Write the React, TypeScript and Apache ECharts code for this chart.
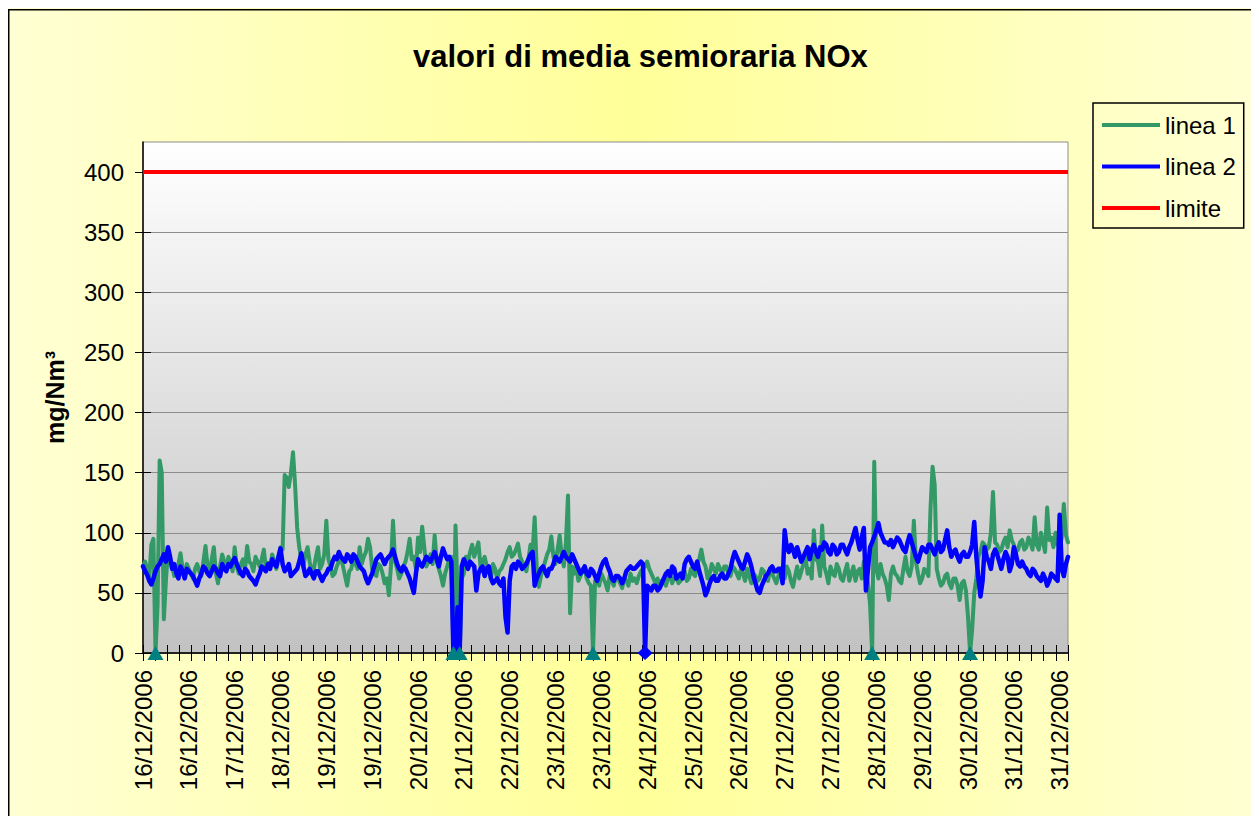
import React, { useEffect, useRef } from 'react';
import * as echarts from 'echarts';

const TITLE = 'valori di media semioraria NOx';
const Y_NAME = 'mg/Nm³';
const FONT = '"Liberation Sans", Arial, sans-serif';

const X_LABELS = [
  '16/12/2006', '16/12/2006', '17/12/2006', '18/12/2006', '19/12/2006', '19/12/2006',
  '20/12/2006', '21/12/2006', '22/12/2006', '23/12/2006', '23/12/2006', '24/12/2006',
  '25/12/2006', '26/12/2006', '27/12/2006', '27/12/2006', '28/12/2006', '29/12/2006',
  '30/12/2006', '31/12/2006', '31/12/2006',
];
const LABEL_EVERY = 22;
const TICK_SLOTS = 77;
const Y_TICKS = [0, 50, 100, 150, 200, 250, 300, 350, 400];
const Y_MAX = 425;
const LIMIT = 400;

const LINEA_1 = [
  72, 76, 70, 62, 90, 95, 0, 40, 160, 150, 28, 60, 85, 78, 72, 64, 68, 74, 83, 70,
  65, 74, 70, 66, 62, 70, 74, 68, 64, 76, 89, 72, 68, 78, 88, 66, 58, 72, 82, 76,
  70, 80, 75, 68, 88, 72, 66, 74, 78, 70, 89, 76, 74, 68, 80, 76, 72, 78, 86, 70,
  75, 70, 82, 76, 70, 78, 88, 86, 148, 146, 138, 150, 167, 140, 104, 88, 78, 72, 82, 88,
  76, 66, 70, 80, 88, 70, 74, 82, 110, 78, 72, 64, 66, 72, 76, 80, 72, 64, 56, 68,
  70, 80, 74, 70, 88, 74, 80, 84, 95, 88, 70, 66, 64, 74, 72, 66, 58, 62, 48, 72,
  110, 76, 70, 62, 66, 72, 76, 84, 95, 78, 80, 70, 96, 84, 105, 88, 72, 76, 82, 74,
  98, 76, 70, 64, 56, 66, 72, 78, 80, 0, 106, 50, 0, 62, 66, 80, 76, 84, 90, 80,
  86, 92, 72, 76, 80, 72, 68, 62, 74, 70, 62, 68, 70, 74, 78, 84, 88, 80, 82, 86,
  91, 80, 76, 72, 68, 78, 90, 84, 113, 70, 55, 64, 70, 76, 82, 86, 97, 80, 74, 86,
  98, 80, 72, 92, 131, 33, 72, 66, 72, 60, 64, 70, 70, 62, 58, 56, 0, 60, 62, 56,
  66, 62, 58, 52, 64, 60, 56, 64, 62, 58, 54, 62, 60, 56, 66, 60, 62, 58, 64, 68,
  70, 72, 76, 70, 66, 62, 58, 62, 56, 60, 60, 56, 62, 66, 58, 62, 64, 58, 60, 64,
  68, 60, 62, 70, 66, 64, 74, 78, 86, 76, 72, 62, 66, 74, 70, 66, 74, 70, 66, 72,
  72, 66, 64, 72, 70, 66, 62, 70, 66, 60, 70, 64, 58, 66, 64, 60, 62, 70, 68, 62,
  60, 70, 66, 62, 58, 64, 70, 66, 62, 72, 68, 60, 55, 64, 72, 62, 68, 74, 80, 66,
  70, 62, 102, 78, 76, 64, 106, 72, 66, 58, 72, 66, 64, 74, 70, 62, 60, 68, 74, 60,
  66, 72, 60, 68, 70, 62, 76, 70, 58, 40, 0, 159, 70, 62, 74, 66, 62, 56, 44, 66,
  72, 66, 64, 60, 58, 70, 80, 68, 64, 72, 110, 76, 66, 58, 62, 70, 68, 64, 120, 155,
  140, 70, 62, 56, 58, 64, 66, 58, 54, 62, 62, 56, 44, 58, 60, 52, 30, 0, 20, 50,
  62, 80, 84, 92, 90, 86, 88, 100, 134, 92, 90, 84, 86, 92, 96, 88, 102, 94, 90, 84,
  86, 92, 94, 86, 88, 96, 92, 86, 113, 90, 86, 100, 92, 84, 121, 94, 96, 88, 100, 90,
  88, 96, 124, 98, 92,
];

const LINEA_2 = [
  72, 68, 65, 60, 57, 62, 68, 72, 74, 78, 82, 76, 88, 80, 70, 74, 66, 62, 72, 68,
  62, 70, 68, 66, 64, 60, 56, 62, 66, 72, 70, 66, 64, 68, 72, 70, 66, 64, 74, 70,
  68, 74, 72, 76, 79, 74, 70, 66, 64, 70, 68, 64, 62, 60, 57, 62, 66, 72, 70, 68,
  74, 70, 78, 74, 72, 80, 87, 74, 68, 70, 74, 64, 66, 68, 70, 76, 83, 72, 64, 66,
  70, 66, 62, 68, 68, 64, 60, 64, 66, 70, 70, 76, 80, 78, 84, 80, 78, 76, 82, 80,
  76, 82, 80, 76, 72, 70, 68, 62, 58, 62, 66, 72, 78, 80, 82, 78, 74, 78, 80, 82,
  86, 80, 74, 70, 68, 72, 70, 66, 62, 56, 50, 66, 78, 74, 72, 76, 80, 78, 76, 80,
  84, 78, 72, 80, 87, 82, 78, 80, 76, 0, 0, 38, 0, 72, 78, 74, 70, 76, 74, 72,
  52, 66, 70, 72, 64, 70, 72, 62, 58, 60, 62, 58, 56, 62, 30, 17, 60, 72, 74, 70,
  76, 74, 70, 72, 74, 78, 82, 84, 56, 62, 66, 70, 72, 68, 64, 70, 70, 74, 80, 78,
  76, 80, 84, 80, 78, 76, 82, 78, 74, 70, 66, 68, 72, 66, 64, 70, 68, 64, 60, 66,
  72, 76, 78, 72, 68, 62, 60, 64, 64, 62, 58, 62, 68, 70, 72, 70, 70, 72, 74, 76,
  74, 0, 56, 54, 52, 56, 56, 52, 54, 58, 62, 66, 68, 64, 72, 70, 62, 64, 66, 62,
  74, 78, 80, 76, 72, 70, 76, 68, 62, 56, 48, 52, 58, 62, 64, 60, 60, 64, 66, 62,
  62, 66, 70, 78, 84, 80, 76, 72, 70, 76, 82, 78, 72, 64, 58, 52, 50, 56, 60, 64,
  66, 70, 72, 68, 68, 70, 70, 58, 102, 88, 84, 90, 86, 80, 88, 82, 76, 80, 84, 88,
  78, 86, 90, 84, 80, 88, 86, 92, 90, 84, 82, 90, 88, 82, 84, 90, 90, 86, 82, 88,
  92, 98, 104, 94, 86, 96, 104, 52, 70, 88, 92, 97, 102, 108, 100, 96, 92, 92, 90, 94,
  88, 92, 96, 94, 90, 86, 84, 92, 98, 92, 86, 80, 76, 82, 88, 86, 84, 90, 90, 86,
  82, 88, 92, 84, 86, 94, 102, 88, 80, 84, 86, 80, 76, 82, 84, 80, 80, 84, 90, 109,
  80, 62, 47, 60, 88, 80, 76, 70, 82, 86, 82, 76, 70, 78, 84, 80, 68, 74, 88, 82,
  74, 72, 76, 72, 70, 66, 64, 70, 68, 64, 62, 60, 66, 62, 56, 60, 66, 64, 62, 60,
  115, 70, 64, 74, 80,
];

const GREEN = '#339966';
const BLUE = '#0000FF';
const RED = '#FF0000';
const TEAL = '#008080';

export default function App() {
  const ref = useRef<HTMLDivElement>(null);

  useEffect(() => {
    if (!ref.current) return;
    const chart = echarts.init(ref.current, null, { renderer: 'svg' });
    const W = ref.current.clientWidth;
    const H = ref.current.clientHeight;

    const categories = LINEA_1.map((_, i) => String(i));
    const tickCats = Array.from({ length: TICK_SLOTS }, (_, i) => String(i));

    const greenZeroNear = (i: number) =>
      LINEA_1.slice(Math.max(0, i - 3), i + 4).some((v) => v === 0);

    const green = LINEA_1.map((v) =>
      v === 0
        ? { value: v, symbol: 'triangle', symbolSize: [16, 14], itemStyle: { color: TEAL } }
        : v
    );
    const blue = LINEA_2.map((v, i) =>
      v === 0 && !greenZeroNear(i)
        ? { value: v, symbol: 'diamond', symbolSize: [15, 14], itemStyle: { color: BLUE } }
        : v
    );

    const option: any = {
      animation: false,
      backgroundColor: new echarts.graphic.LinearGradient(0, 0, 1, 0, [
        { offset: 0, color: '#FFFFD4' },
        { offset: 0.5, color: '#FFFF99' },
        { offset: 1, color: '#FFFFD4' },
      ]),
      textStyle: { fontFamily: FONT },
      title: {
        text: TITLE,
        left: 405,
        top: 33,
        padding: 0,
        textStyle: { fontSize: 31, fontWeight: 'bold', color: '#000', fontFamily: FONT },
      },
      legend: {
        orient: 'vertical',
        left: 1085,
        top: 95,
        padding: [8, 8, 6, 9],
        borderColor: '#000',
        borderWidth: 1.5,
        itemWidth: 58,
        itemHeight: 4,
        itemGap: 13.5,
        icon: 'rect',
        textStyle: { fontSize: 24, color: '#000', lineHeight: 28, fontFamily: FONT },
        data: ['linea 1', 'linea 2', 'limite'],
      },
      grid: {
        left: 135,
        top: 134,
        right: 191,
        bottom: 163,
        show: true,
        backgroundColor: new echarts.graphic.LinearGradient(0, 0, 0, 1, [
          { offset: 0, color: '#FFFFFF' },
          { offset: 1, color: '#C2C2C2' },
        ]),
        borderColor: '#8C8C8C',
        borderWidth: 1,
      },
      xAxis: [
        {
          type: 'category',
          data: categories,
          boundaryGap: false,
          position: 'bottom',
          axisLine: { show: true, onZero: false, lineStyle: { color: '#222', width: 2 } },
          axisTick: { show: false },
          splitLine: { show: false },
          axisLabel: {
            interval: LABEL_EVERY - 1,
            rotate: 90,
            margin: 17,
            fontSize: 24,
            color: '#000',
            fontFamily: FONT,
            formatter: (_v: string, idx: number) => X_LABELS[Math.round(idx / LABEL_EVERY)] ?? '',
          },
        },
        {
          type: 'category',
          data: tickCats,
          boundaryGap: false,
          position: 'bottom',
          axisLine: { show: false, onZero: false },
          axisLabel: { show: false },
          splitLine: { show: false },
          axisTick: { show: true, interval: 0, length: 8, inside: false, lineStyle: { color: '#000', width: 1 } },
        },
        {
          type: 'category',
          data: tickCats,
          boundaryGap: false,
          position: 'bottom',
          axisLine: { show: false, onZero: false },
          axisLabel: { show: false },
          splitLine: { show: false },
          axisTick: { show: true, interval: 0, length: 8, inside: true, lineStyle: { color: '#000', width: 1 } },
        },
      ],
      yAxis: [
        {
          type: 'value',
          min: 0,
          max: Y_MAX,
          interval: 50,
          position: 'left',
          name: Y_NAME,
          nameLocation: 'middle',
          nameRotate: 90,
          nameGap: 76,
          nameTextStyle: { fontSize: 25, fontWeight: 'bold', color: '#000', fontFamily: FONT },
          axisLine: { show: true, lineStyle: { color: '#000', width: 1.5 } },
          axisTick: { show: true, length: 8, customValues: Y_TICKS, lineStyle: { color: '#000', width: 1 } },
          axisLabel: { customValues: Y_TICKS, margin: 19, fontSize: 24, color: '#000', fontFamily: FONT },
          splitLine: { show: true, lineStyle: { color: '#8C8C8C', width: 1 } },
        },
        {
          type: 'value',
          min: 0,
          max: Y_MAX,
          interval: 50,
          position: 'left',
          axisLine: { show: false },
          axisLabel: { show: false },
          splitLine: { show: false },
          axisTick: { show: true, inside: true, length: 8, customValues: Y_TICKS, lineStyle: { color: '#000', width: 1 } },
        },
      ],
      series: [
        {
          name: 'linea 1',
          type: 'line',
          xAxisIndex: 0,
          yAxisIndex: 0,
          data: green,
          color: GREEN,
          symbol: 'none',
          showSymbol: true,
          showAllSymbol: true,
          lineStyle: { color: GREEN, width: 4, join: 'round', cap: 'round' },
          emphasis: { disabled: true },
        },
        {
          name: 'linea 2',
          type: 'line',
          xAxisIndex: 0,
          yAxisIndex: 0,
          data: blue,
          color: BLUE,
          symbol: 'none',
          showSymbol: true,
          showAllSymbol: true,
          lineStyle: { color: BLUE, width: 4.5, join: 'round', cap: 'round' },
          emphasis: { disabled: true },
        },
        {
          name: 'limite',
          type: 'line',
          xAxisIndex: 0,
          yAxisIndex: 0,
          data: [],
          color: RED,
          symbol: 'none',
          lineStyle: { color: RED, width: 4 },
          markLine: {
            silent: true,
            symbol: ['none', 'none'],
            label: { show: false },
            lineStyle: { color: RED, width: 4, type: 'solid' },
            data: [{ yAxis: LIMIT }],
          },
        },
      ],
      graphic: [
        { type: 'line', z: 100, shape: { x1: 0.75, y1: 1.5, x2: 0.75, y2: H }, style: { stroke: '#000', lineWidth: 1.5 } },
        { type: 'line', z: 100, shape: { x1: 0, y1: 1.75, x2: W, y2: 1.75 }, style: { stroke: '#000', lineWidth: 1.5 } },
      ],
    };

    chart.setOption(option);
    return () => chart.dispose();
  }, []);

  return <div ref={ref} style={{ width: 1251, height: 808 }} />;
}
